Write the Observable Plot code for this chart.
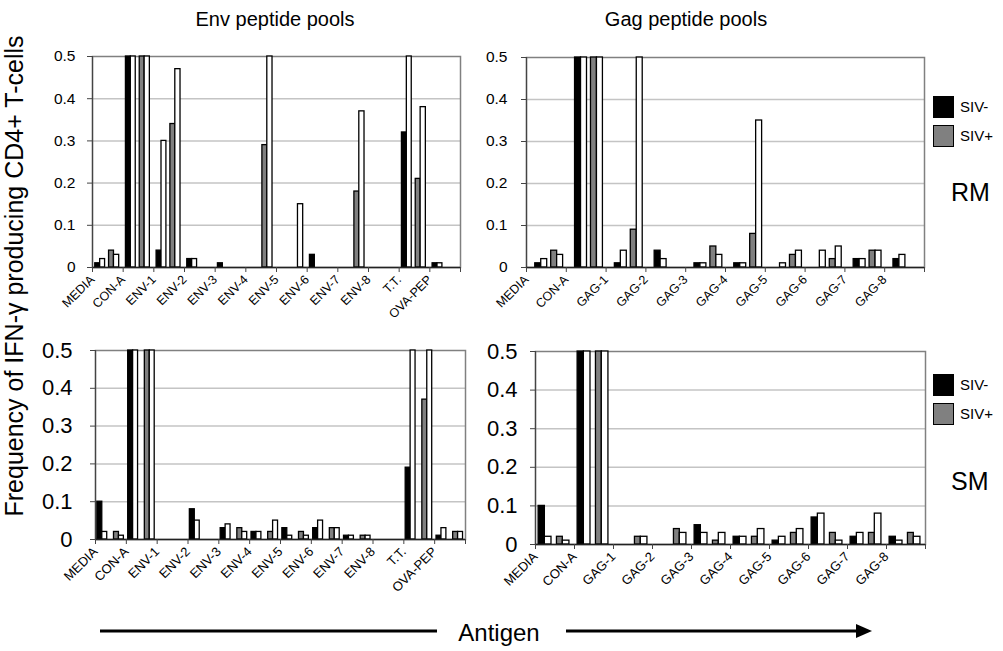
<!DOCTYPE html>
<html>
<head>
<meta charset="utf-8">
<script src="https://cdn.jsdelivr.net/npm/d3@7"></script>
<script src="https://cdn.jsdelivr.net/npm/@observablehq/plot@0.6"></script>
<style>
  html, body { margin: 0; padding: 0; background: white; }
  #root { position: relative; width: 1003px; height: 651px; overflow: hidden; font-family: "Liberation Sans", Arial, sans-serif; }
  #root svg.layer { position: absolute; left: 0; top: 0; }
  .txt { position: absolute; white-space: nowrap; color: black; }
  .box { position: absolute; width: 21px; height: 22px; border: 1.5px solid black; box-sizing: border-box; }
</style>
</head>
<body>
<div id="root"></div>
<script>
// ---------------- DATA ----------------
const envCategories = ["MEDIA", "CON-A", "ENV-1", "ENV-2", "ENV-3", "ENV-4", "ENV-5", "ENV-6", "ENV-7", "ENV-8", "T.T.", "OVA-PEP"];
const gagCategories = ["MEDIA", "CON-A", "GAG-1", "GAG-2", "GAG-3", "GAG-4", "GAG-5", "GAG-6", "GAG-7", "GAG-8"];
const seriesNames = ["SIV- #1", "SIV- #2", "SIV+ #1", "SIV+ #2"];
const yTicks = [0, 0.1, 0.2, 0.3, 0.4, 0.5];

// RM (rhesus macaques), Env peptide pools
const rmEnvNeg1 = [0.01, 0.5, 0.04, 0.02, 0.01, 0, 0, 0.03, 0, 0, 0.32, 0.01];
const rmEnvNeg2 = [0.02, 0.5, 0.30, 0.02, 0, 0, 0, 0, 0, 0, 0.5, 0.01];
const rmEnvPos1 = [0.04, 0.5, 0.34, 0, 0, 0.29, 0, 0, 0.18, 0, 0.21, 0];
const rmEnvPos2 = [0.03, 0.5, 0.47, 0, 0, 0.5, 0.15, 0, 0.37, 0, 0.38, 0];

// RM, Gag peptide pools
const rmGagNeg1 = [0.01, 0.5, 0.01, 0.04, 0.01, 0.01, 0, 0, 0.02, 0.02];
const rmGagNeg2 = [0.02, 0.5, 0.04, 0.02, 0.01, 0.01, 0.01, 0.04, 0.02, 0.03];
const rmGagPos1 = [0.04, 0.5, 0.09, 0, 0.05, 0.08, 0.03, 0.02, 0.04, 0];
const rmGagPos2 = [0.03, 0.5, 0.5, 0, 0.03, 0.35, 0.04, 0.05, 0.04, 0];

// SM (sooty mangabeys), Env peptide pools
const smEnvNeg1 = [0.10, 0.5, 0, 0.08, 0.03, 0.02, 0.03, 0.03, 0.01, 0, 0.19, 0.01];
const smEnvNeg2 = [0.02, 0.5, 0, 0.05, 0.04, 0.02, 0.01, 0.05, 0.01, 0, 0.5, 0.03];
const smEnvPos1 = [0.02, 0.5, 0, 0, 0.03, 0.02, 0.02, 0.03, 0.01, 0, 0.37, 0.02];
const smEnvPos2 = [0.01, 0.5, 0, 0, 0.02, 0.05, 0.01, 0.03, 0.01, 0, 0.5, 0.02];

// SM, Gag peptide pools
const smGagNeg1 = [0.10, 0.5, 0, 0, 0.05, 0.02, 0.01, 0.07, 0.02, 0.02];
const smGagNeg2 = [0.02, 0.5, 0, 0, 0.03, 0.02, 0.02, 0.08, 0.03, 0.01];
const smGagPos1 = [0.02, 0.5, 0.02, 0.04, 0.01, 0.02, 0.03, 0.03, 0.03, 0.03];
const smGagPos2 = [0.01, 0.5, 0.02, 0.03, 0.03, 0.04, 0.04, 0.01, 0.08, 0.02];

// ---------------- STYLE / LAYOUT ----------------
const W = 1003, H = 651;
const FONT = '"Liberation Sans", Arial, sans-serif';
const seriesFill = ["#000000", "#ffffff", "#808080", "#ffffff"];

const panels = [
  {cats: envCategories, series: [rmEnvNeg1, rmEnvNeg2, rmEnvPos1, rmEnvPos2],
   box: {x0: 92, x1: 460, y0: 56, y1: 267},
   slots: [[0.09, 0.25], [0.25, 0.41], [0.54, 0.70], [0.70, 0.87]],
   yFont: 15.5, yPad: 12, xFont: 12.5},
  {cats: gagCategories, series: [rmGagNeg1, rmGagNeg2, rmGagPos1, rmGagPos2],
   box: {x0: 526, x1: 924, y0: 57, y1: 267},
   slots: [[0.22, 0.37], [0.37, 0.52], [0.62, 0.77], [0.77, 0.92]],
   yFont: 15.5, yPad: 14, xFont: 12.5},
  {cats: envCategories, series: [smEnvNeg1, smEnvNeg2, smEnvPos1, smEnvPos2],
   box: {x0: 95, x1: 465, y0: 350, y1: 539},
   slots: [[0.06, 0.22], [0.22, 0.38], [0.60, 0.76], [0.76, 0.92]],
   yFont: 22, yPad: 18, xFont: 13},
  {cats: gagCategories, series: [smGagNeg1, smGagNeg2, smGagPos1, smGagPos2],
   box: {x0: 535, x1: 925, y0: 351, y1: 544},
   slots: [[0.08, 0.24], [0.24, 0.41], [0.55, 0.70], [0.70, 0.87]],
   yFont: 22, yPad: 13, xFont: 13}
];

const root = document.getElementById("root");

for (const p of panels) {
  const n = p.cats.length;
  const rows = [];
  p.cats.forEach((c, i) => {
    p.series.forEach((s, j) => {
      if (s[i] > 0) rows.push({cat: c, series: seriesNames[j], j, x1: i + p.slots[j][0], x2: i + p.slots[j][1], value: s[i]});
    });
  });
  const chart = Plot.plot({
    width: W, height: H,
    marginLeft: p.box.x0, marginRight: W - p.box.x1,
    marginTop: p.box.y0, marginBottom: H - p.box.y1,
    style: {background: "transparent", overflow: "visible", fontFamily: FONT},
    x: {type: "linear", domain: [0, n], axis: null},
    y: {domain: [0, 0.5], axis: null},
    marks: [
      Plot.ruleY(yTicks.filter(d => d > 0 && d < 0.5), {stroke: "#c4c4c4", strokeWidth: 1.5}),
      Plot.frame({stroke: "#808080", strokeWidth: 1.5}),
      Plot.rectY(rows, {x1: "x1", x2: "x2", y: "value", fill: d => seriesFill[d.j], stroke: "black", strokeWidth: 1.3}),
      Plot.ruleX([0], {stroke: "#444", strokeWidth: 1.2}),
      Plot.ruleY([0], {stroke: "#222", strokeWidth: 1.5}),
      Plot.axisY({ticks: yTicks, tickSize: 5, tickPadding: p.yPad, fontSize: p.yFont, tickFormat: d => d === 0 ? "0" : d.toFixed(1), label: null, stroke: "#444"}),
      Plot.axisX({ticks: d3.range(n + 1), tickSize: 5, tickFormat: () => "", label: null, stroke: "#444"}),
      Plot.text(p.cats, {x: (d, i) => i, y: 0, text: d => d, rotate: -45, textAnchor: "end", fontSize: p.xFont, dx: 0, dy: 10, fill: "black"})
    ]
  });
  chart.classList.add("layer");
  root.appendChild(chart);
}

// --------------- Titles, legends, annotations ---------------
function addText(str, css) {
  const d = document.createElement("div");
  d.className = "txt";
  d.textContent = str;
  Object.assign(d.style, css);
  root.appendChild(d);
  return d;
}
addText("Env peptide pools", {left: "275px", top: "8px", fontSize: "20px", transform: "translateX(-50%)"});
addText("Gag peptide pools", {left: "686px", top: "8px", fontSize: "20px", transform: "translateX(-50%)"});
addText("Frequency of IFN-\u03b3 producing CD4+ T-cells", {left: "14px", top: "276px", fontSize: "25px", transform: "translate(-50%, -50%) rotate(-90deg)"});
addText("RM", {left: "951px", top: "178px", fontSize: "25px"});
addText("SM", {left: "951px", top: "467px", fontSize: "25px"});
addText("Antigen", {left: "499px", top: "619px", fontSize: "24px", transform: "translateX(-50%)"});

function legend(top) {
  const entries = [["SIV-", "#000000"], ["SIV+", "#808080"]];
  entries.forEach(([label, col], k) => {
    const b = document.createElement("div");
    b.className = "box";
    b.style.left = "933px";
    b.style.top = (top + k * 29) + "px";
    b.style.background = col;
    root.appendChild(b);
    addText(label, {left: "960px", top: (top + k * 29 + 2) + "px", fontSize: "15px"});
  });
}
legend(96);
legend(374);

// Antigen arrow
const ns = "http://www.w3.org/2000/svg";
const svg = document.createElementNS(ns, "svg");
svg.setAttribute("width", W); svg.setAttribute("height", H);
svg.setAttribute("class", "layer");
svg.style.pointerEvents = "none";
svg.innerHTML = `
  <line x1="100" y1="631" x2="437" y2="631" stroke="black" stroke-width="3"/>
  <line x1="566" y1="631" x2="858" y2="631" stroke="black" stroke-width="3"/>
  <path d="M856,624 L872,631 L856,638 Z" fill="black"/>`;
root.appendChild(svg);
</script>
</body>
</html>
